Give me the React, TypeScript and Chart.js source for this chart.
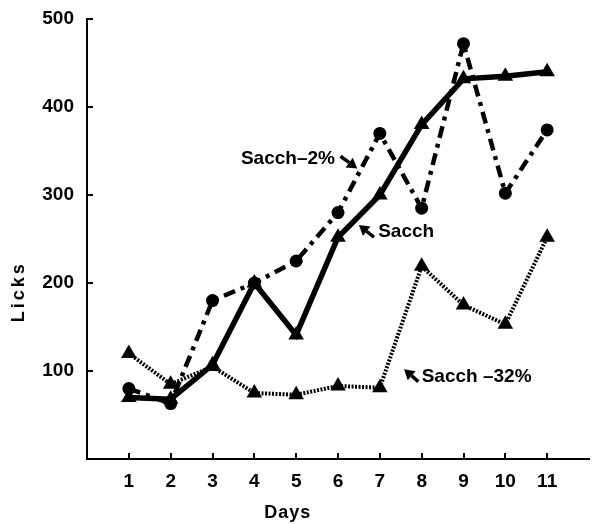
import React, { useEffect, useRef } from 'react';
import { Chart, registerables } from 'chart.js';

Chart.register(...registerables);

// ---- data ----
const days = [1, 2, 3, 4, 5, 6, 7, 8, 9, 10, 11];
const sacch2 = [80, 63, 180, 200, 225, 280, 370, 285, 472, 302, 374];
const sacch = [70, 68, 107, 200, 141, 252, 300, 380, 432, 435, 440];
const sacch32 = [120, 85, 105, 75, 73, 83, 81, 219, 175, 153, 252];
const yTickValues = [100, 200, 300, 400, 500];
const xTickValues = [1, 2, 3, 4, 5, 6, 7, 8, 9, 10, 11];
const seriesLabels = ['Sacch–2%', 'Sacch', 'Sacch –32%'];
const xTitle = 'Days';
const yTitle = 'Licks';

// annotation labels (data units) with arrows
const annotations = [
  { text: seriesLabels[0], x: 3.68, y: 341, tail: [6.06, 344], tip: [6.46, 330] },
  { text: seriesLabels[1], x: 6.96, y: 258, tail: [6.86, 252], tip: [6.5, 266] },
  { text: seriesLabels[2], x: 8.0, y: 93, tail: [7.92, 88], tip: [7.58, 102] },
];

const FONT = '"Liberation Sans", Arial, Helvetica, sans-serif';

const toXY = (vals: number[]) => days.map((d, i) => ({ x: d, y: vals[i] }));

const decorPlugin = {
  id: 'decor',
  afterDraw(chart: any) {
    const { ctx, chartArea, scales } = chart;
    const xs = scales.x;
    const ys = scales.y;
    ctx.save();
    ctx.strokeStyle = '#000';
    ctx.fillStyle = '#000';
    ctx.lineWidth = 2;
    // inward tick marks
    yTickValues.forEach((v) => {
      const py = Math.round(ys.getPixelForValue(v));
      ctx.beginPath();
      ctx.moveTo(chartArea.left, py);
      ctx.lineTo(chartArea.left + 6, py);
      ctx.stroke();
    });
    xTickValues.forEach((v) => {
      const px = Math.round(xs.getPixelForValue(v));
      ctx.beginPath();
      ctx.moveTo(px, chartArea.bottom);
      ctx.lineTo(px, chartArea.bottom - 6);
      ctx.stroke();
    });
    // annotations
    ctx.font = `bold 19px ${FONT}`;
    ctx.textBaseline = 'middle';
    ctx.textAlign = 'left';
    annotations.forEach((a) => {
      ctx.fillText(a.text, xs.getPixelForValue(a.x), ys.getPixelForValue(a.y));
      const tx = xs.getPixelForValue(a.tail[0]);
      const ty = ys.getPixelForValue(a.tail[1]);
      const hx = xs.getPixelForValue(a.tip[0]);
      const hy = ys.getPixelForValue(a.tip[1]);
      const ang = Math.atan2(hy - ty, hx - tx);
      const headLen = 10;
      const headW = 6;
      const bx = hx - Math.cos(ang) * headLen;
      const by = hy - Math.sin(ang) * headLen;
      ctx.lineWidth = 3.5;
      ctx.beginPath();
      ctx.moveTo(tx, ty);
      ctx.lineTo(bx, by);
      ctx.stroke();
      ctx.beginPath();
      ctx.moveTo(hx, hy);
      ctx.lineTo(bx + Math.sin(ang) * headW, by - Math.cos(ang) * headW);
      ctx.lineTo(bx - Math.sin(ang) * headW, by + Math.cos(ang) * headW);
      ctx.closePath();
      ctx.fill();
    });
    // axis titles
    ctx.font = `bold 18px ${FONT}`;
    ctx.textAlign = 'center';
    ctx.textBaseline = 'middle';
    try { (ctx as any).letterSpacing = '1px'; } catch (e) {}
    ctx.fillText(xTitle, xs.getPixelForValue(4.8), chartArea.bottom + 54);
    try { (ctx as any).letterSpacing = '3px'; } catch (e) {}
    ctx.translate(chartArea.left - 68, ys.getPixelForValue(190));
    ctx.rotate(-Math.PI / 2);
    ctx.fillText(yTitle, 0, 0);
    ctx.restore();
  },
};

export default function App() {
  const ref = useRef<HTMLCanvasElement | null>(null);
  useEffect(() => {
    if (!ref.current) return;
    const common = {
      borderColor: '#000',
      backgroundColor: '#000',
      pointBackgroundColor: '#000',
      pointBorderColor: '#000',
      pointBorderWidth: 0,
      tension: 0,
      fill: false,
    };
    const chart = new Chart(ref.current, {
      type: 'line',
      data: {
        datasets: [
          {
            ...common,
            label: seriesLabels[0],
            data: toXY(sacch2),
            borderWidth: 4.5,
            borderDash: [12, 6, 4, 6],
            pointStyle: 'circle',
            pointRadius: 6.5,
          },
          {
            ...common,
            label: seriesLabels[1],
            data: toXY(sacch),
            borderWidth: 5.5,
            pointStyle: 'triangle',
            pointRadius: 9,
          },
          {
            ...common,
            label: seriesLabels[2],
            data: toXY(sacch32),
            borderWidth: 4,
            borderDash: [2, 1.5],
            pointStyle: 'triangle',
            pointRadius: 9,
          },
        ],
      } as any,
      options: {
        animation: false,
        responsive: false,
        layout: { padding: { top: 19, right: 0, left: 0, bottom: 0 } },
        plugins: { legend: { display: false }, tooltip: { enabled: false } },
        scales: {
          x: {
            type: 'linear',
            min: 0,
            max: 12,
            afterBuildTicks: (s: any) => {
              s.ticks = xTickValues.map((v) => ({ value: v }));
            },
            afterFit: (s: any) => {
              s.height = 65;
            },
            grid: { display: false },
            border: { display: true, color: '#000', width: 2 },
            ticks: {
              color: '#000',
              padding: 3,
              maxRotation: 0,
              autoSkip: false,
              font: { family: FONT, size: 19, weight: 'bold' },
            },
          },
          y: {
            type: 'linear',
            min: 0,
            max: 500,
            afterBuildTicks: (s: any) => {
              s.ticks = yTickValues.map((v) => ({ value: v }));
            },
            afterFit: (s: any) => {
              s.width = 87;
            },
            grid: { display: false },
            border: { display: true, color: '#000', width: 2 },
            ticks: {
              color: '#000',
              padding: 5,
              font: { family: FONT, size: 19, weight: 'bold' },
            },
          },
        },
      } as any,
      plugins: [decorPlugin as any],
    });
    return () => chart.destroy();
  }, []);
  return (
    <div style={{ position: 'absolute', left: 0, top: 0, width: 598, height: 524, background: '#fff' }}>
      <canvas ref={ref} width={598} height={524} style={{ display: 'block' }} />
    </div>
  );
}
